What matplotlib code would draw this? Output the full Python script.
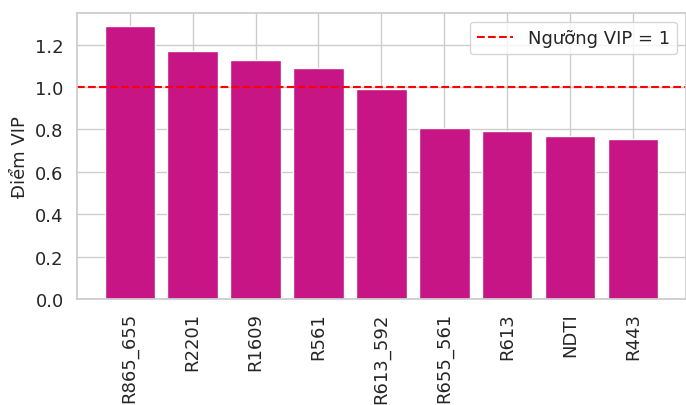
import numpy as np
import matplotlib
matplotlib.use("Agg")
from matplotlib import pyplot as plt
import seaborn as sns

# dữ liệu VIP
features = ["R865_655", "R2201", "R1609", "R561", "R613_592",
            "R655_561", "R613", "NDTI", "R443"]
vip_scores = [1.286, 1.171, 1.129, 1.090, 0.990, 0.805, 0.795, 0.767, 0.757]
threshold = 1.0

sns.set_theme(style="whitegrid")
plt.rcParams['font.family'] = ['DejaVu Sans']

fig = plt.figure(figsize=(6.86, 4.06), dpi=100)
ax = fig.add_axes([0.112, 0.261, 0.888, 0.705])

x = np.arange(len(features))
ax.bar(x, vip_scores, color="mediumvioletred", width=0.8)
ax.axhline(threshold, color="red", linestyle="--", linewidth=1.5,
           label="Ngưỡng VIP = 1")

ax.set_xticks(x)
ax.set_xticklabels(features, rotation=90, fontsize=13)
ax.tick_params(axis="y", labelsize=13)
ax.set_ylabel("Điểm VIP", fontsize=13)
ax.legend(loc="upper right", fontsize=13)

fig.savefig("out.png", dpi=100)
